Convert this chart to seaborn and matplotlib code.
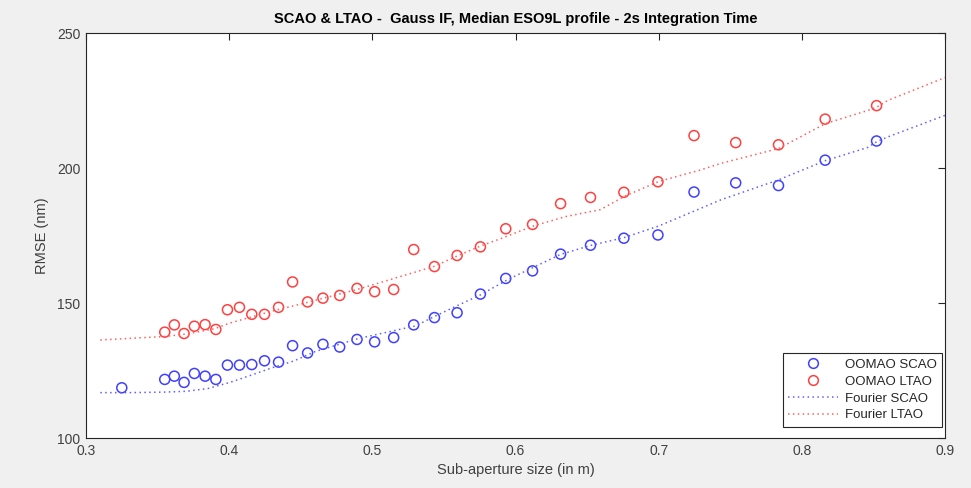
import matplotlib
matplotlib.use("Agg")
import matplotlib.pyplot as plt
import seaborn as sns
import pandas as pd
from matplotlib.lines import Line2D

# ---- data ----
scao_x = [0.325, 0.355, 0.3617, 0.3685, 0.3757, 0.3832, 0.3907, 0.3988, 0.4072, 0.4158,
          0.4247, 0.4345, 0.4443, 0.4548, 0.4655, 0.4772, 0.4893, 0.5016, 0.5149, 0.5289,
          0.5434, 0.5592, 0.5755, 0.5932, 0.6119, 0.6315, 0.6524, 0.6757, 0.6995, 0.7247,
          0.7538, 0.7837, 0.8163, 0.8522]
scao_y = [118.6, 121.7, 122.9, 120.6, 123.9, 122.9, 121.7, 127.0, 127.0, 127.2,
          128.6, 128.1, 134.2, 131.5, 134.7, 133.7, 136.5, 135.6, 137.2, 141.9,
          144.6, 146.4, 153.3, 159.1, 161.9, 168.1, 171.4, 174.0, 175.2, 191.1,
          194.5, 193.5, 202.9, 210.0]

ltao_x = [0.355, 0.3617, 0.3685, 0.3757, 0.3832, 0.3907, 0.3988, 0.4072, 0.4158,
          0.4247, 0.4345, 0.4443, 0.4548, 0.4655, 0.4772, 0.4893, 0.5016, 0.5149, 0.5289,
          0.5434, 0.5592, 0.5755, 0.5932, 0.6119, 0.6315, 0.6524, 0.6757, 0.6995, 0.7247,
          0.7538, 0.7837, 0.8163, 0.8522]
ltao_y = [139.2, 141.9, 138.7, 141.4, 142.0, 140.2, 147.5, 148.4, 145.8,
          145.8, 148.4, 157.8, 150.4, 151.8, 152.8, 155.4, 154.2, 155.0, 169.8,
          163.5, 167.6, 170.8, 177.5, 179.1, 186.8, 189.1, 191.0, 194.9, 212.0,
          209.4, 208.6, 218.1, 223.1]

four_scao_x = [0.31, 0.33, 0.355, 0.37, 0.385, 0.40, 0.415, 0.43, 0.445, 0.46, 0.49,
               0.53, 0.5434, 0.5592, 0.5755, 0.595, 0.6315, 0.6524, 0.6757, 0.70, 0.7434,
               0.7837, 0.8163, 0.846, 0.8522, 0.86, 0.90]
four_scao_y = [116.8, 116.8, 117.0, 117.3, 118.3, 120.5, 123.2, 126.0, 128.5, 132.0, 136.8,
               141.5, 145.0, 149.0, 153.0, 158.8, 168.0, 171.3, 174.2, 178.5, 188.2,
               195.6, 202.7, 207.6, 209.7, 211.5, 219.5]

four_ltao_x = [0.31, 0.355, 0.37, 0.39, 0.40, 0.43, 0.45, 0.49, 0.5429, 0.5592, 0.5755,
               0.5895, 0.6117, 0.635, 0.6594, 0.6757, 0.70, 0.7294, 0.7434, 0.7837, 0.8163,
               0.846, 0.8522, 0.86, 0.90]
four_ltao_y = [136.3, 137.6, 138.5, 140.5, 142.5, 147.0, 149.6, 155.1, 163.5, 167.4, 171.1,
               173.8, 178.4, 182.0, 184.6, 189.4, 195.0, 199.3, 201.7, 207.2, 216.4,
               221.3, 222.5, 225.0, 233.5]

x_ticks = [0.3, 0.4, 0.5, 0.6, 0.7, 0.8, 0.9]
y_ticks = [100, 150, 200, 250]

title = "SCAO & LTAO -  Gauss IF, Median ESO9L profile - 2s Integration Time"
xlabel = "Sub-aperture size (in m)"
ylabel = "RMSE (nm)"

# ---- style ----
sns.set_style("white")
plt.rcParams['font.family'] = ['Liberation Sans', 'DejaVu Sans']

blue_m = '#4040ff'
red_m = '#ff4040'
blue_l = '#6060ff'
red_l = '#ff6060'
axcol = '#262626'
labcol = '#404040'

fig = plt.figure(figsize=(9.71, 4.88), dpi=100, facecolor='#f0f0f0')
ax = fig.add_axes([86/971, 1-438/488, (945-86)/971, (438-33)/488])
ax.set_facecolor('white')

df_scao = pd.DataFrame({'x': scao_x, 'y': scao_y})
df_ltao = pd.DataFrame({'x': ltao_x, 'y': ltao_y})
df_fs = pd.DataFrame({'x': four_scao_x, 'y': four_scao_y})
df_fl = pd.DataFrame({'x': four_ltao_x, 'y': four_ltao_y})

sns.lineplot(data=df_fs, x='x', y='y', ax=ax, color=blue_l, lw=1.1,
             linestyle=(0, (1, 2.2)), sort=False, legend=False)
sns.lineplot(data=df_fl, x='x', y='y', ax=ax, color=red_l, lw=1.1,
             linestyle=(0, (1, 2.2)), sort=False, legend=False)
sns.scatterplot(data=df_scao, x='x', y='y', ax=ax, marker='o', s=52,
                facecolors='none', edgecolor=blue_m, linewidth=1.1, legend=False)
sns.scatterplot(data=df_ltao, x='x', y='y', ax=ax, marker='o', s=52,
                facecolors='none', edgecolor=red_m, linewidth=1.1, legend=False)

ax.set_xlim(0.3, 0.9)
ax.set_ylim(100, 250)
ax.set_xticks(x_ticks)
ax.set_xticklabels([f"{v:g}" for v in x_ticks])
ax.set_yticks(y_ticks)
ax.tick_params(direction='in', length=5, width=0.8, color=axcol, labelcolor=labcol,
               labelsize=10, top=True, right=True, pad=4)
for s in ax.spines.values():
    s.set_color(axcol)
    s.set_linewidth(0.8)
    s.set_visible(True)

ax.set_title(title, fontsize=10.5, fontweight='bold', color='black', pad=7)
ax.set_xlabel(xlabel, fontsize=10.5, color=labcol, labelpad=4)
ax.set_ylabel(ylabel, fontsize=10.5, color=labcol, labelpad=6)

handles = [
    Line2D([], [], ls='none', marker='o', mfc='none', mec=blue_m, ms=7, mew=1.1),
    Line2D([], [], ls='none', marker='o', mfc='none', mec=red_m, ms=7, mew=1.1),
    Line2D([], [], color=blue_l, lw=1.1, ls=(0, (1, 2.2))),
    Line2D([], [], color=red_l, lw=1.1, ls=(0, (1, 2.2))),
]
labels = ["OOMAO SCAO", "OOMAO LTAO", "Fourier SCAO", "Fourier LTAO"]
leg = ax.legend(handles, labels, loc='lower right', fontsize=9.5, frameon=True,
                fancybox=False, edgecolor=axcol, framealpha=1, borderpad=0.4,
                handlelength=3.8, handletextpad=0.5, labelspacing=0.35,
                borderaxespad=0.0, bbox_to_anchor=(0.9965, 0.028))
leg.get_frame().set_linewidth(0.8)

fig.savefig("out.png", dpi=100, facecolor=fig.get_facecolor())
